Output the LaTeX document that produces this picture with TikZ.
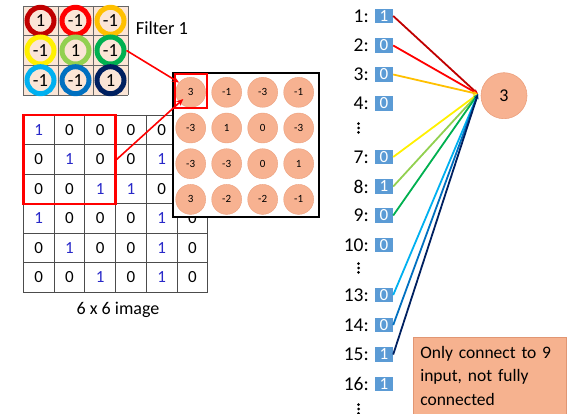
\documentclass[tikz,border=0pt]{standalone}
\usepackage{fontspec}
\setmainfont{Carlito}
\usetikzlibrary{arrows.meta}
\definecolor{peach}{RGB}{251,229,214}
\definecolor{salmon}{RGB}{247,178,145}
\definecolor{salmonedge}{RGB}{236,160,125}
\definecolor{notefill}{RGB}{246,178,143}
\definecolor{noteedge}{RGB}{225,150,115}
\definecolor{inblue}{RGB}{91,155,213}
\definecolor{imgblue}{RGB}{40,40,200}
\definecolor{cA}{RGB}{192,0,0}
\definecolor{cB}{RGB}{255,0,0}
\definecolor{cC}{RGB}{255,192,0}
\definecolor{cD}{RGB}{255,240,0}
\definecolor{cE}{RGB}{146,208,80}
\definecolor{cF}{RGB}{0,176,80}
\definecolor{cG}{RGB}{0,176,240}
\definecolor{cH}{RGB}{0,112,192}
\definecolor{cI}{RGB}{0,32,96}
\begin{document}
\begin{tikzpicture}[x=1pt,y=-1pt,
  fring/.style={circle,minimum size=27pt,inner sep=0pt,line width=5pt,fill=peach,
    font=\fontsize{18.5}{20}\selectfont},
  imgnum/.style={inner sep=0pt,font=\fontsize{17}{20}\selectfont},
  fmc/.style={circle,minimum size=30pt,inner sep=0pt,fill=salmon,draw=salmonedge,line width=0.4pt,
    font=\fontsize{11}{12}\selectfont},
  lbl/.style={inner sep=0pt,anchor=east,font=\fontsize{19.5}{21}\selectfont},
  inbox/.style={fill=inblue,text=white,minimum width=18pt,minimum height=14.5pt,inner sep=0pt,
    font=\fontsize{17}{18}\selectfont},
  conn/.style={line width=1.8pt,-{Stealth[length=5pt,width=4pt]}},
  redarrow/.style={red,line width=1.6pt,-{Stealth[length=7pt,width=6pt]}}]
\useasboundingbox (0,0) rectangle (573,414);
% ---------- filter ----------
\fill[peach] (23,6) rectangle (128,95);
\foreach \x in {23,58,93,128} \draw[gray!80!black,line width=0.8pt] (\x,6) -- (\x,95);
\foreach \y in {6,35.7,65.3,95} \draw[gray!80!black,line width=0.8pt] (23,\y) -- (128,\y);
\foreach \n/\cx/\cy/\col/\v in {1/40.5/20.8/cA/1, 2/75.5/20.8/cB/-1, 3/110.5/20.8/cC/-1,
  4/40.5/50.5/cD/-1, 5/75.5/50.5/cE/1, 6/110.5/50.5/cF/-1,
  7/40.5/80.2/cG/-1, 8/75.5/80.2/cH/-1, 9/110.5/80.2/cI/1}
  \node[fring,draw=\col] (f\n) at (\cx,\cy) {\v};
\node[inner sep=0pt,font=\fontsize{18.5}{20}\selectfont] (ftitle) at (162,28) {Filter 1};
% ---------- image (9 = cell hidden under the feature map) ----------
\foreach \r/\a/\b/\c/\d/\e/\f in {1/1/0/0/0/0/9, 2/0/1/0/0/1/9, 3/0/0/1/1/0/9,
  4/1/0/0/0/1/0, 5/0/1/0/0/1/0, 6/0/0/1/0/1/0}{
  \foreach \k/\v in {1/\a,2/\b,3/\c,4/\d,5/\e,6/\f}{
    \ifnum\v<9
    \node[imgnum] (img-\r-\k) at ({23.3+30.73*(\k-0.5)},{115+29.5*(\r-0.5)})
      {\ifnum\v=1 \color{imgblue}\fi\v};
    \fi
  }
}
\foreach \k in {0,...,6} \draw[gray!60!black,line width=0.8pt] ({23.3+30.73*\k},115) -- ({23.3+30.73*\k},292);
\foreach \k in {0,...,6} \draw[gray!60!black,line width=0.8pt] (23.3,{115+29.5*\k}) -- (207.7,{115+29.5*\k});
\node[draw=red,line width=2.6pt,minimum width=92pt,minimum height=89pt,inner sep=0pt] (imgbox) at (69.3,159.5) {};
\node[inner sep=0pt,font=\fontsize{18}{20}\selectfont] (imgtitle) at (118,310) {6 x 6 image};
% ---------- feature map ----------
\node[draw=black,fill=white,line width=2pt,minimum width=146pt,minimum height=144pt,inner sep=0pt]
  (fmbox) at (245.8,144.7) {};
\foreach \r/\a/\b/\c/\d in {1/3/-1/-3/-1, 2/-3/1/0/-3, 3/-3/-3/0/1, 4/3/-2/-2/-1}{
  \foreach \k/\v in {1/\a,2/\b,3/\c,4/\d}{
    \node[fmc] (fm-\r-\k) at ({190.7+36*(\k-1)},{92.3+35.7*(\r-1)}) {\v};
  }
}
\node[draw=red,line width=2pt,minimum width=31.5pt,minimum height=34pt,inner sep=0pt] (fmsel) at (190.8,91) {};
\draw[redarrow] (f6.east) -- (fm-1-1.140);
\draw[redarrow,shorten >=10pt] (imgbox.east) -- (fm-1-1.center);
% ---------- right side ----------
\foreach \lab/\y/\v in {1/16/1, 2/45.5/0, 3/74.5/0, 4/103.5/0, 7/157/0, 8/186.5/1, 9/215.5/0,
  10/245/0, 13/295/0, 14/325/0, 15/354.5/1, 16/384/1}{
  \node[lbl] (l\lab) at (369,\y) {\lab:};
  \node[inbox] (in\lab) at (384,\y) {\v};
}
\foreach \y in {128,268,409} \foreach \d in {-4.3,0,4.3} \fill (358.5,\y+\d) circle (1.5pt);
\node[circle,minimum size=46pt,inner sep=0pt,fill=salmon,draw=salmonedge,line width=0.6pt,
  font=\fontsize{18}{20}\selectfont] (out) at (504,95.7) {3};
\coordinate (conv) at (478,94);
\foreach \n/\col in {1/cA,2/cB,3/cC,7/cD,8/cE,9/cF,13/cG,14/cH,15/cI}
  \draw[conn,draw=\col,fill=\col] (in\n.east) -- (conv);
\node[fill=notefill,draw=noteedge,line width=0.6pt,anchor=north west,
  minimum width=153pt,minimum height=77pt,inner xsep=7pt,inner ysep=2pt,align=left,
  text width=139pt,font=\fontsize{17.5}{23.5}\selectfont] (note) at (413,337)
  {Only connect to 9\\input, not fully\\connected};
\end{tikzpicture}
\end{document}
